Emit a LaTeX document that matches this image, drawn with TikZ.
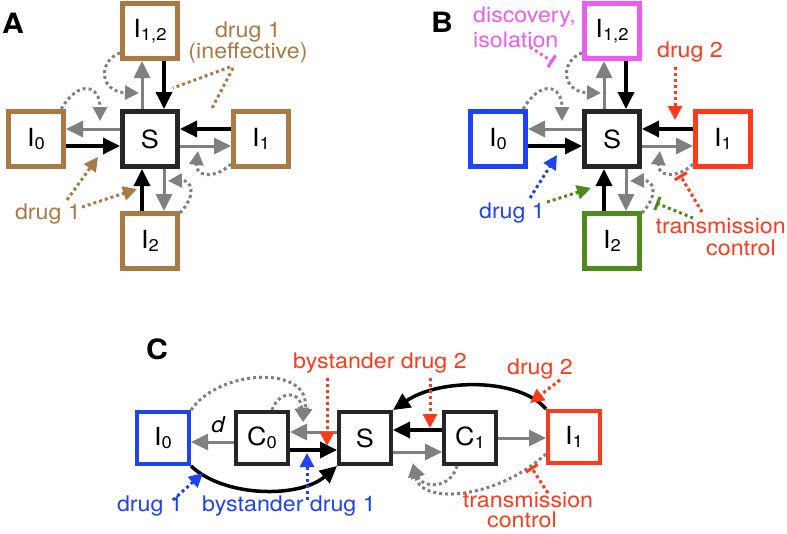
\documentclass[tikz,border=0pt]{standalone}
\usepackage{fontspec}
\setmainfont{TeX Gyre Heros}[FakeStretch=1.08]
\usetikzlibrary{arrows.meta}
\definecolor{brn}{HTML}{AA7A44}
\definecolor{mag}{HTML}{EE5CEE}
\definecolor{rd}{HTML}{FF3A1A}
\definecolor{bl}{HTML}{1F42F2}
\definecolor{gr}{HTML}{4E8A1C}
\definecolor{gy}{HTML}{808080}
\definecolor{dk}{HTML}{262626}
\newcommand\sbs[1]{\raisebox{-3pt}{\fontsize{17}{17}\selectfont #1}}
\newcommand\crosspanel[5]{%
  \node[bx=dk] (#1S) at (150,139) {S};
  \node[bx=#2] (#1I12) at (150,31) {I\sbs{1,2}};
  \node[bx=#3] (#1I0) at (36,139) {I\sbs{0}};
  \node[bx=#4] (#1I1) at (261,139) {I\sbs{1}};
  \node[bx=#5] (#1I2) at (150,241) {I\sbs{2}};
  \draw[garr] ([xshift=-8pt]#1S.north) -- ([xshift=-8pt]#1I12.south);
  \draw[barr] ([xshift=14pt]#1I12.south) -- ([xshift=14pt]#1S.north);
  \draw[barr] ([xshift=-8pt]#1I2.north) -- ([xshift=-8pt]#1S.south);
  \draw[garr] ([xshift=14pt]#1S.south) -- ([xshift=14pt]#1I2.north);
  \draw[garr] ([yshift=10pt]#1S.west) -- ([yshift=10pt]#1I0.east);
  \draw[barr] ([yshift=-7pt]#1I0.east) -- ([yshift=-7pt]#1S.west);
  \draw[barr] ([yshift=10pt]#1I1.west) -- ([yshift=10pt]#1S.east);
  \draw[garr] ([yshift=-7pt]#1S.east) -- ([yshift=-7pt]#1I1.west);
  \draw[dotarr=gy] (#1I12.216) .. controls (97,62) and (100,92) .. (139,93);
  \draw[dotarr=gy] (#1I0.50) .. controls (78,80) and (100,84) .. (100,121);
  \draw[dotarr=gy] (#1I1.220) .. controls (214,180) and (195,176) .. (198,151);
  \draw[dotarr=gy] (#1I2.43) .. controls (196,196) and (193,180) .. (168,181);
}
\begin{document}
\begin{tikzpicture}[x=1pt,y=-1pt,
  bx/.style={draw=#1, line width=5pt, minimum size=55pt, inner sep=0pt, fill=white, font=\fontsize{25}{25}\selectfont},
  cbx/.style={draw=#1, line width=4pt, minimum size=52pt, inner sep=0pt, fill=white, font=\fontsize{25}{25}\selectfont},
  barr/.style={draw=black, line width=3.5pt, -{Triangle[length=17pt,width=16pt]}},
  garr/.style={draw=gy, line width=3pt, -{Triangle[length=17pt,width=16pt]}},
  dotc/.style={draw=#1, line width=3pt, dash pattern=on 3pt off 3pt},
  dotarr/.style={dotc=#1, -{Triangle[length=14pt,width=14pt]}},
  dottee/.style={dotc=#1, -{Bar[width=14pt]}},
  lbl/.style={text=#1, font=\fontsize{21.5}{21}\selectfont, inner sep=0pt, align=center},
  plbl/.style={font=\fontsize{28}{28}\selectfont\bfseries, inner sep=0pt}
]
\useasboundingbox (0,0) rectangle (787,533);

% ---------- Panel A ----------
\node[plbl] (labA) at (13,23) {A};
\crosspanel{A}{brn}{brn}{brn}{brn}
\node[lbl=brn] (tAd1) at (48,214) {drug 1};
\node[lbl=brn] (tAd1i) at (248,42) {drug 1\\(ineffective)};
\draw[dotarr=brn] (67,200) -- (98,157);
\draw[dotarr=brn] (82,207) -- (137,189);
\draw[dotc=brn] (230,67) -- (173,88);
\draw[dotc=brn] (233,68) -- (211,110);

% ---------- Panel B ----------
\node[plbl] (labB) at (442,22) {B};
\begin{scope}[xshift=462pt]
\crosspanel{B}{mag}{bl}{rd}{gr}
\end{scope}
\node[lbl=mag, align=left, anchor=west, font=\fontsize{21.5}{25}\selectfont] (tBdisc) at (473,27) {discovery,\\isolation};
\draw[dottee=mag] (530,47) -- (553,62);
\node[lbl=rd] (tBd2) at (690,52) {drug 2};
\draw[dotarr=rd] (675,67) -- (675,120);
\node[lbl=bl] (tBd1) at (512,213) {drug 1};
\draw[dotarr=bl] (530,198) -- (557,155);
\draw[dotarr=gr] (547,202) -- (591,188);
\draw[dottee=gr] (693,218) -- (656,203);
\draw[dottee=rd] (702,212) -- (680,175);
\node[lbl=rd, align=right, anchor=east, font=\fontsize{21.5}{22}\selectfont] (tBtc) at (786,237) {transmission\\control\hspace*{10pt}};

% ---------- Panel C ----------
\node[plbl] (labC) at (157,349) {C};
\node[cbx=bl] (CI0) at (163,438) {I\sbs{0}};
\node[cbx=dk] (CC0) at (262,438) {C\sbs{0}};
\node[cbx=dk] (CS) at (365,438) {S};
\node[cbx=dk] (CC1) at (470,438) {C\sbs{1}};
\node[cbx=rd] (CI1) at (574,437) {I\sbs{1}};
\draw[garr] ([yshift=-4pt]CC0.west) -- ([yshift=-4pt]CI0.east);
\node[font=\fontsize{22}{22}\selectfont\itshape, inner sep=0pt] (td) at (218,425) {d};
\draw[garr] ([yshift=6pt]CS.west) -- ([yshift=6pt]CC0.east);
\draw[barr] ([yshift=-12pt]CC0.east) -- ([yshift=-12pt]CS.west);
\draw[barr] ([yshift=8pt]CC1.west) -- ([yshift=8pt]CS.east);
\draw[garr] ([yshift=-14pt]CS.east) -- ([yshift=-14pt]CC1.west);
\draw[garr] (CC1.east) -- (CI1.west |- CC1.east);
\draw[barr] (CI0.south east) .. controls (225,498) and (300,498) .. (CS.south west);
\draw[barr] (CI1.north west) .. controls (520,378) and (440,378) .. (CS.north east);
\draw[dotarr=gy] (CI0.north east) .. controls (220,368) and (312,365) .. (303,422);
\draw[dotarr=gy] ([xshift=10pt]CC0.north) .. controls (278,392) and (300,388) .. (303,422);
\draw[dotarr=gy] ([yshift=-17pt]CI1.west) .. controls (495,500) and (420,505) .. (413,463);
\draw[dotarr=gy] ([xshift=-13pt]CC1.south) .. controls (450,490) and (422,488) .. (413,464);
\node[lbl=rd] (tCbd2) at (380,363) {bystander drug 2};
\draw[dotarr=rd] (327,378) -- (327,446);
\draw[dotarr=rd] (430,378) -- (430,428);
\node[lbl=rd] (tCd2) at (540,369) {drug 2};
\draw[dotarr=rd] (560,380) -- (530,403);
\node[lbl=bl] (tCd1) at (150,506) {drug 1};
\draw[dotarr=bl] (173,500) -- (203,473);
\node[lbl=bl] (tCbd1) at (289,506) {bystander drug 1};
\draw[dotarr=bl] (307,500) -- (307,453);
\draw[dottee=rd] (548,493) -- (531,467);
\node[lbl=rd, font=\fontsize{21.5}{20}\selectfont] (tCtc) at (528,510) {transmission\\\hspace*{-12pt}control};
\end{tikzpicture}
\end{document}
